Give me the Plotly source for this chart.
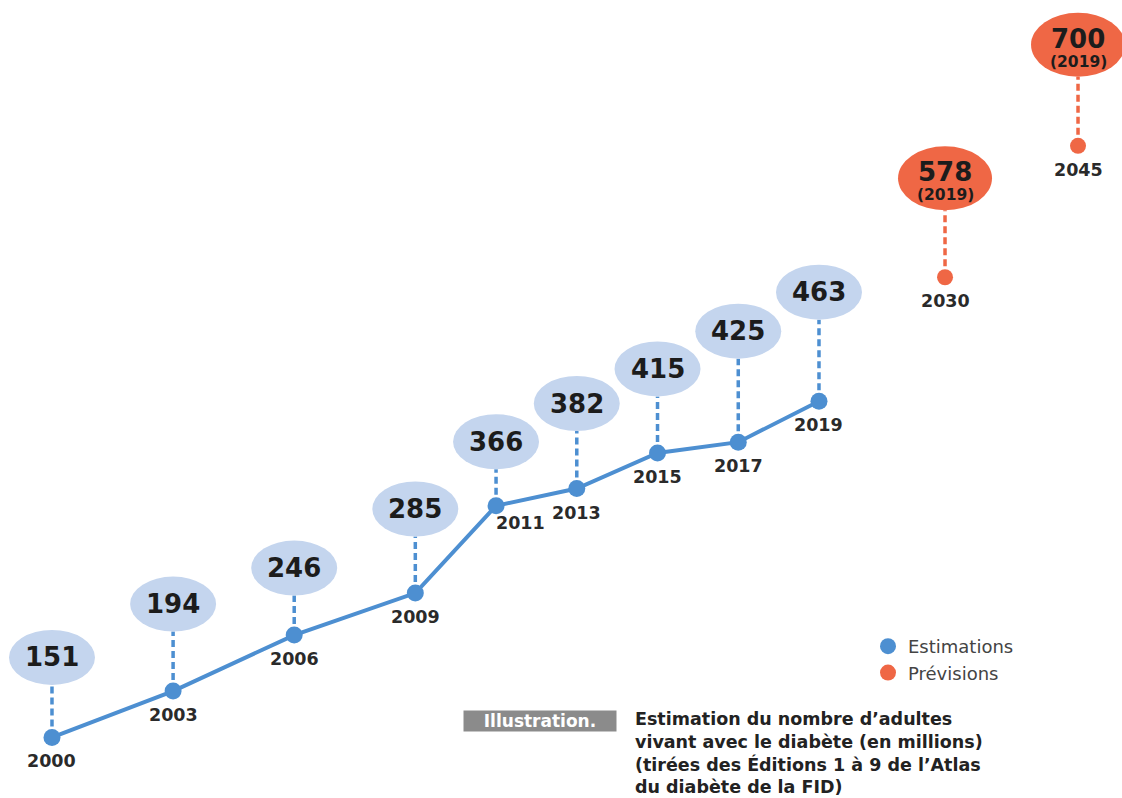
import plotly.graph_objects as go

# ---- data ----
years_est = [2000, 2003, 2006, 2009, 2011, 2013, 2015, 2017, 2019]
values_est = [151, 194, 246, 285, 366, 382, 415, 425, 463]
years_prev = [2030, 2045]
values_prev = [578, 700]
prev_edition = "(2019)"
legend_names = ["Estimations", "Prévisions"]
caption_tag = "Illustration."
caption_text = ("Estimation du nombre d’adultes<br>vivant avec le diabète (en millions)<br>"
                "(tirées des Éditions 1 à 9 de l’Atlas<br>du diabète de la FID)")

# ---- style ----
BLUE = "#4d8fd1"
LIGHT = "#c4d5ee"
ORANGE = "#ef6745"
INK = "#1c1c1c"
FONT = "DejaVu Sans"
bubble_lift_est = [80, 87, 67, 84, 64, 85, 84, 111, 109]   # label bubble height above point (px)
bubble_lift_prev = [99, 101]

fig = go.Figure()

fig.add_trace(go.Scatter(
    x=years_est, y=values_est, mode="lines+markers", xaxis="x", yaxis="y",
    line=dict(color=BLUE, width=4), marker=dict(color=BLUE, size=17),
    showlegend=False, hoverinfo="skip"))
fig.add_trace(go.Scatter(
    x=years_prev, y=values_prev, mode="markers", xaxis="x2", yaxis="y",
    marker=dict(color=ORANGE, size=16), showlegend=False, hoverinfo="skip"))

# legend-only entries
fig.add_trace(go.Scatter(x=[None], y=[None], mode="markers", name=legend_names[0],
                         marker=dict(color=BLUE, size=16)))
fig.add_trace(go.Scatter(x=[None], y=[None], mode="markers", name=legend_names[1],
                         marker=dict(color=ORANGE, size=16)))

shapes = []
annotations = []


def add_point_decor(xref, year, val, lift, fill, line_col, bw, bh, year_shift=(0, -24)):
    # dashed connector
    shapes.append(dict(type="line", xref=xref, yref="y", layer="below",
                       x0=year, x1=year, ysizemode="pixel", yanchor=val,
                       y0=0, y1=lift - bh / 2,
                       line=dict(color=line_col, width=3.5, dash="7px,4px")))
    # bubble
    shapes.append(dict(type="circle", xref=xref, yref="y", layer="below",
                       xsizemode="pixel", xanchor=year, x0=-bw / 2, x1=bw / 2,
                       ysizemode="pixel", yanchor=val, y0=lift - bh / 2, y1=lift + bh / 2,
                       fillcolor=fill, line=dict(width=0)))
    # year label
    annotations.append(dict(xref=xref, yref="y", x=year, y=val, text=str(year),
                            showarrow=False, xshift=year_shift[0], yshift=year_shift[1],
                            font=dict(family=FONT, size=17.5, color="#2a2a2a", weight=700)))


for i, (yr, v) in enumerate(zip(years_est, values_est)):
    ys = (24, -17) if yr == 2011 else (0, -24)
    add_point_decor("x", yr, v, bubble_lift_est[i], LIGHT, BLUE, 86, 55, ys)
    annotations.append(dict(xref="x", yref="y", x=yr, y=v, text=str(v), showarrow=False,
                            yshift=bubble_lift_est[i],
                            font=dict(family=FONT, size=26, color=INK, weight=700)))

for i, (yr, v) in enumerate(zip(years_prev, values_prev)):
    add_point_decor("x2", yr, v, bubble_lift_prev[i], ORANGE, ORANGE, 94, 64)
    annotations.append(dict(xref="x2", yref="y", x=yr, y=v, text=str(v), showarrow=False,
                            yshift=bubble_lift_prev[i] + 6,
                            font=dict(family=FONT, size=26, color=INK, weight=700)))
    annotations.append(dict(xref="x2", yref="y", x=yr, y=v, text=prev_edition, showarrow=False,
                            yshift=bubble_lift_prev[i] - 17,
                            font=dict(family=FONT, size=15.5, color=INK, weight=700)))

# caption
annotations.append(dict(xref="paper", yref="paper", x=540 / 1122, y=1 - 721 / 798,
                        xanchor="center", yanchor="middle", text=caption_tag, showarrow=False,
                        bgcolor="#8b8b8b", borderpad=0, width=152, height=20, align="center",
                        font=dict(family=FONT, size=17, color="white", weight=700)))
annotations.append(dict(xref="paper", yref="paper", x=633 / 1122, y=1 - 707 / 798,
                        xanchor="left", yanchor="top", align="left", text=caption_text,
                        showarrow=False,
                        font=dict(family=FONT, size=17.5, color="#222222", weight=700)))

fig.update_layout(
    width=1122, height=798,
    margin=dict(l=0, r=0, t=0, b=0),
    paper_bgcolor="white", plot_bgcolor="white",
    xaxis=dict(range=[1998.712, 2026.506], visible=False, domain=[0, 1], fixedrange=True),
    xaxis2=dict(range=[1923.42, 2049.96], visible=False, overlaying="x", fixedrange=True),
    yaxis=dict(range=[94.8, 835.3], visible=False, fixedrange=True),
    shapes=shapes, annotations=annotations,
    showlegend=True,
    legend=dict(x=868 / 1122, y=1 - 628 / 798, xanchor="left", yanchor="top",
                font=dict(family=FONT, size=18, color="#444444"),
                bgcolor="rgba(0,0,0,0)", itemsizing="trace", tracegroupgap=0),
)

fig.write_html("out.html", post_script="document.body.style.margin='0';",
               config={"displayModeBar": False})
